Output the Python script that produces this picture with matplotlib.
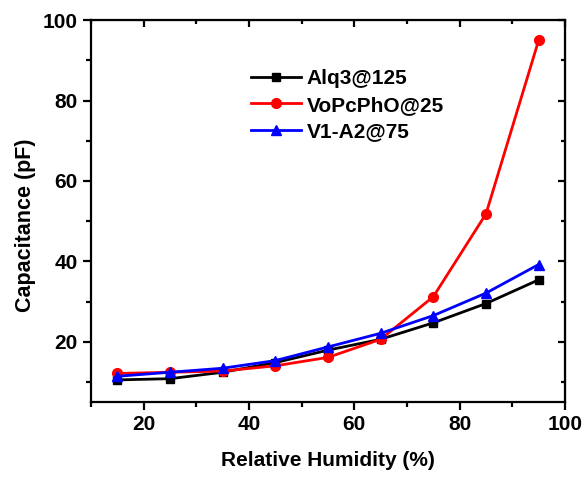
import matplotlib
matplotlib.use('Agg')
import matplotlib.pyplot as plt
from matplotlib.ticker import MultipleLocator

plt.rcParams['font.family'] = ['Liberation Sans', 'DejaVu Sans']
plt.rcParams['font.weight'] = 'bold'

humidity = [15, 25, 35, 45, 55, 65, 75, 85, 95]
alq3 = [10.5, 10.8, 12.4, 14.8, 17.9, 20.6, 24.7, 29.5, 35.4]
vopcpho = [12.1, 12.4, 12.7, 14.0, 16.1, 20.6, 31.2, 51.8, 95.0]
v1a2 = [11.4, 12.4, 13.4, 15.3, 18.7, 22.1, 26.5, 32.1, 39.2]

labels = ['Alq3@125', 'VoPcPhO@25', 'V1-A2@75']

fig = plt.figure(figsize=(5.87, 4.8), dpi=100)
ax = fig.add_axes([0.155, 0.1625, 0.8075, 0.7955])

ax.plot(humidity, alq3, color='black', marker='s', ms=6, lw=2, label=labels[0])
ax.plot(humidity, vopcpho, color='red', marker='o', ms=7, lw=2, label=labels[1])
ax.plot(humidity, v1a2, color='blue', marker='^', ms=7.5, lw=2, label=labels[2])

ax.set_xlim(10, 100)
ax.set_ylim(5, 100)
ax.xaxis.set_major_locator(MultipleLocator(20))
ax.xaxis.set_minor_locator(MultipleLocator(10))
ax.yaxis.set_major_locator(MultipleLocator(20))
ax.yaxis.set_minor_locator(MultipleLocator(10))

for s in ax.spines.values():
    s.set_linewidth(1.6)
ax.tick_params(which='both', direction='out', width=1.6, labelsize=15)
ax.tick_params(which='major', length=6)
ax.tick_params(which='minor', length=3.5)

# inward ticks on top and right, no labels
ax2 = ax.secondary_xaxis('top')
ax2.xaxis.set_major_locator(MultipleLocator(20))
ax2.xaxis.set_minor_locator(MultipleLocator(10))
ax2.tick_params(which='both', direction='in', width=1.6, labeltop=False)
ax2.tick_params(which='major', length=5)
ax2.tick_params(which='minor', length=3)
ax3 = ax.secondary_yaxis('right')
ax3.yaxis.set_major_locator(MultipleLocator(20))
ax3.yaxis.set_minor_locator(MultipleLocator(10))
ax3.tick_params(which='both', direction='in', width=1.6, labelright=False)
ax3.tick_params(which='major', length=5)
ax3.tick_params(which='minor', length=3)

ax.set_xlabel('Relative Humidity (%)', fontsize=15, fontweight='bold', labelpad=12)
ax.set_ylabel('Capacitance (pF)', fontsize=15.5, fontweight='bold')
ax.yaxis.set_label_coords(-0.116, 0.463)

ax.legend(loc='upper left', bbox_to_anchor=(0.297, 0.92), frameon=False,
          handlelength=2.4, handletextpad=0.3, labelspacing=0.35,
          prop={'weight': 'bold', 'size': 15})

fig.savefig('out.png', dpi=100)
